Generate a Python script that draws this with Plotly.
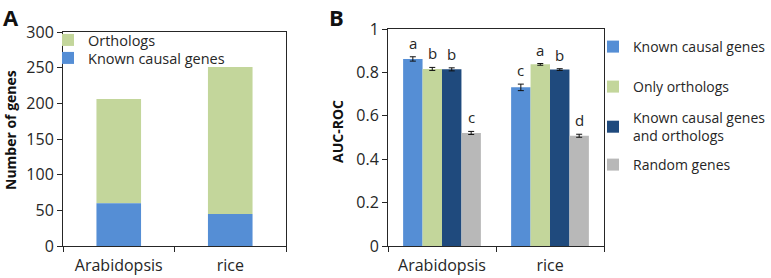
import plotly.graph_objects as go

# ---- data ----
species = ["Arabidopsis", "rice"]

# Panel A: number of genes (stacked)
known_counts = [60, 45]
ortholog_counts = [146, 206]

# Panel B: AUC-ROC
series_names = ["Known causal genes", "Only orthologs",
                "Known causal genes<br>and orthologs", "Random genes"]
auc_known = [0.862, 0.731]
auc_orth = [0.816, 0.837]
auc_both = [0.814, 0.813]
auc_random = [0.521, 0.508]
err_known = [0.010, 0.015]
err_orth = [0.007, 0.004]
err_both = [0.007, 0.004]
err_random = [0.007, 0.007]
letters_known = ["a", "c"]
letters_orth = ["b", "a"]
letters_both = ["b", "b"]
letters_random = ["c", "d"]

yticks_A = [0, 50, 100, 150, 200, 250, 300]
yticks_B = [0, 0.2, 0.4, 0.6, 0.8, 1]

# ---- styling ----
C_BLUE = "#558ED5"
C_GREEN = "#C3D69B"
C_DARK = "#1F4A7D"
C_GRAY = "#B8B8B8"
AX = "#262626"
FONT = "Open Sans"
W, H = 771, 278


def px_x(p):
    return p / W


def px_y(p):
    return (H - p) / H


fig = go.Figure()

# Panel A stacked bars
fig.add_trace(go.Bar(
    x=species, y=ortholog_counts, base=known_counts, name="Orthologs",
    marker=dict(color=C_GREEN, line=dict(width=0)), width=0.4, offset=-0.2,
    xaxis="x", yaxis="y", legend="legend"))
fig.add_trace(go.Bar(
    x=species, y=known_counts, name="Known causal genes",
    marker=dict(color=C_BLUE, line=dict(width=0)), width=0.4, offset=-0.2,
    xaxis="x", yaxis="y", legend="legend2"))

# Panel B grouped bars
vals = [auc_known, auc_orth, auc_both, auc_random]
errs = [err_known, err_orth, err_both, err_random]
lets = [letters_known, letters_orth, letters_both, letters_random]
cols = [C_BLUE, C_GREEN, C_DARK, C_GRAY]
group_w = 0.72
bar_w = group_w / len(vals)
for k, (nm, v, e, c) in enumerate(zip(series_names, vals, errs, cols)):
    off = -group_w / 2 + k * bar_w
    fig.add_trace(go.Bar(
        x=species, y=v, name=nm, width=bar_w, offset=off,
        marker=dict(color=c, line=dict(width=0)),
        error_y=dict(type="data", array=e, color="#111", thickness=1, width=3),
        xaxis="x2", yaxis="y2", legend=f"legend{k + 3}"))
    for i in range(len(species)):
        fig.add_annotation(
            x=i + off + bar_w / 2, y=v[i] + e[i], xref="x2", yref="y2",
            text=lets[k][i], showarrow=False, xanchor="center",
            yanchor="bottom", yshift=2,
            font=dict(size=15, color=AX, family=FONT))

axis_common = dict(showline=True, linecolor=AX, linewidth=1, mirror=True,
                   showgrid=False, zeroline=False, ticks="outside",
                   tickcolor=AX, automargin=False,
                   tickfont=dict(size=16, color=AX, family=FONT))


def leg(xp, yp, size):
    return dict(x=px_x(xp), y=px_y(yp), xanchor="left", yanchor="middle",
                bgcolor="rgba(0,0,0,0)", borderwidth=0,
                font=dict(size=size, color=AX, family=FONT), itemclick=False,
                itemdoubleclick=False)


fig.update_layout(
    width=W, height=H,
    margin=dict(l=0, r=0, t=0, b=0, autoexpand=False),
    paper_bgcolor="white", plot_bgcolor="white",
    barmode="overlay", showlegend=True,
    font=dict(family=FONT, color=AX),
    xaxis=dict(domain=[px_x(63), px_x(286)], anchor="y", type="category",
               tickson="boundaries", ticklen=5, ticklabelstandoff=5,
               range=[-0.5, 1.5], **axis_common),
    yaxis=dict(domain=[px_y(246), px_y(32)], anchor="x", range=[0, 300],
               tickvals=yticks_A, ticklen=5, **axis_common),
    xaxis2=dict(domain=[px_x(388), px_x(604)], anchor="y2", type="category",
                tickson="boundaries", ticklen=5, ticklabelstandoff=5,
                range=[-0.5, 1.5], **axis_common),
    yaxis2=dict(domain=[px_y(246), px_y(29)], anchor="x2", range=[0, 1],
                tickvals=yticks_B,
                ticktext=["0", "0.2", "0.4", "0.6", "0.8", "1"],
                ticklen=5, **axis_common),
    legend=leg(48, 40, 14.5),
    legend2=leg(48, 58, 14.5),
    legend3=leg(593, 47, 14),
    legend4=leg(593, 87, 14),
    legend5=leg(593, 127, 14),
    legend6=leg(593, 165, 14),
)


def label(xp, yp, text, size, angle=0, yanchor="middle"):
    fig.add_annotation(x=px_x(xp), y=px_y(yp), xref="paper", yref="paper",
                       text=text, showarrow=False, textangle=angle,
                       xanchor="center", yanchor=yanchor,
                       font=dict(size=size, color="#111", family=FONT))


label(10, 130, "<b>Number of genes</b>", 14, -90)
label(337, 132, "<b>AUC-ROC</b>", 14, -90)
label(11, 0, "<b>A</b>", 22, yanchor="top")
label(336, 0, "<b>B</b>", 22, yanchor="top")

fig.write_html("out.html", config={"displayModeBar": False},
               post_script="document.body.style.margin='0px';")
